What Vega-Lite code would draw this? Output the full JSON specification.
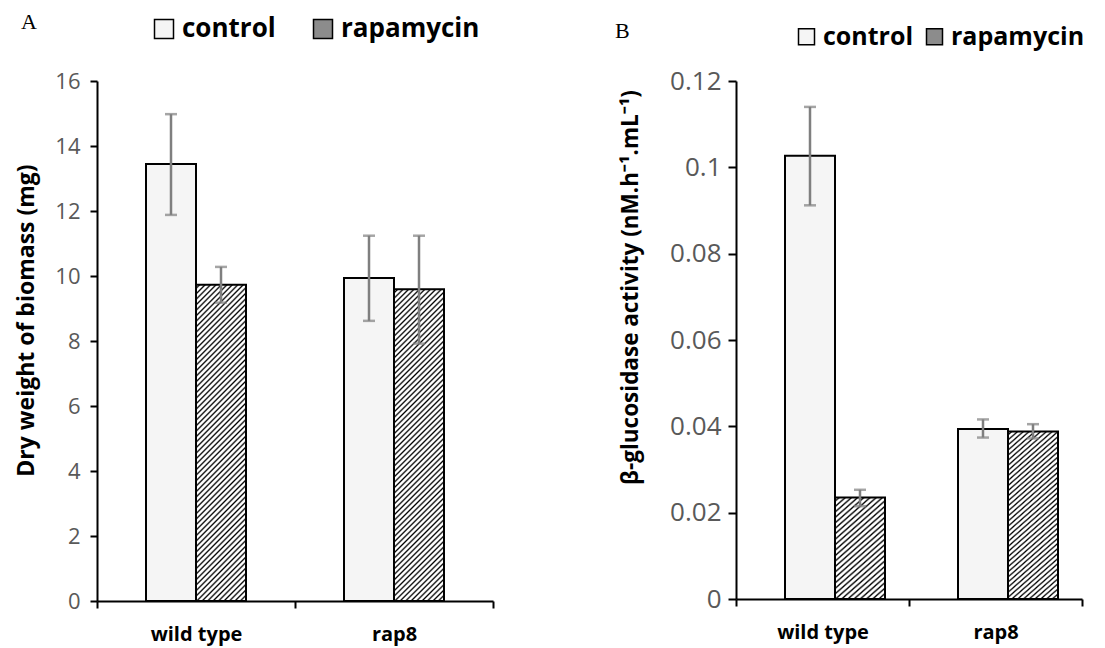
{
"background": "white",
"padding": {"left": 15, "top": 11, "right": 5, "bottom": 2},
"spacing": 243,
"bounds": "flush",
"resolve": {"scale": {"fill": "independent"}, "legend": {"fill": "independent"}},
"config": {"view": {"stroke": null}, "font": "Open Sans"},
"datasets": {
"a": [
{"genotype":"wild type","treatment":"control","value":13.45,"lo":11.88,"hi":14.98},
{"genotype":"wild type","treatment":"rapamycin","value":9.73,"lo":9.18,"hi":10.28},
{"genotype":"rap8","treatment":"control","value":9.94,"lo":8.62,"hi":11.24},
{"genotype":"rap8","treatment":"rapamycin","value":9.59,"lo":7.92,"hi":11.24}
],
"b": [
{"genotype":"wild type","treatment":"control","value":0.1027,"lo":0.0912,"hi":0.114},
{"genotype":"wild type","treatment":"rapamycin","value":0.0235,"lo":0.0215,"hi":0.0253},
{"genotype":"rap8","treatment":"control","value":0.0394,"lo":0.0374,"hi":0.0416},
{"genotype":"rap8","treatment":"rapamycin","value":0.0388,"lo":0.0372,"hi":0.0405}
]
},
"hconcat": [
{
"width": 396, "height": 520,
"data": {"name": "a"},
"title": {"text": "A", "anchor": "start", "frame": "group", "font": "Liberation Serif", "fontSize": 22, "fontWeight": "normal", "color": "black", "dx": -76, "dy": 18, "offset": 0},
"encoding": {
"x": {"field": "genotype", "type": "nominal", "sort": ["wild type","rap8"], "scale": {"paddingInner": 0, "paddingOuter": 0},
 "axis": {"title": null, "labelAngle": 0, "labelFontWeight": "bold", "labelFontSize": 20, "labelColor": "black", "labelPadding": 16, "tickBand": "extent", "tickSize": 7, "tickWidth": 2, "tickColor": "black", "domainColor": "black", "domainWidth": 2}},
"xOffset": {"field": "treatment", "type": "nominal", "sort": ["control","rapamycin"], "scale": {"paddingInner": 0, "paddingOuter": 0.98}}
},
"layer": [
{"mark": {"type": "bar", "stroke": "black", "strokeWidth": 2},
 "encoding": {
 "y": {"field": "value", "type": "quantitative", "scale": {"domain": [0,16], "nice": false},
  "axis": {"values": [0,2,4,6,8,10,12,14,16], "title": "Dry weight of biomass (mg)", "titleFontWeight": "bold", "titleFontSize": 23, "titleColor": "black", "titlePadding": 16, "titleY": 239, "labelFontSize": 22, "labelColor": "#595959", "labelPadding": 10, "tickColor": "black", "tickSize": 7, "tickWidth": 2, "domainColor": "black", "domainWidth": 2, "grid": false}},
 "fill": {"field": "treatment", "type": "nominal",
  "scale": {"domain": ["control","rapamycin"], "range": ["#f5f5f5","#8c8c8c"]},
  "legend": {"title": null, "orient": "none", "legendX": 54, "legendY": -65, "direction": "horizontal", "columns": 2, "symbolType": "square", "symbolSize": 361, "symbolOpacity": 1, "symbolStrokeWidth": 1.5, "symbolStrokeColor": "black", "labelFontWeight": "bold", "labelFontSize": 26, "labelColor": "black", "labelOffset": 5, "columnPadding": 34, "padding": 0},
  "condition": {"test": "datum.treatment === 'rapamycin'", "value": {"gradient":"linear","x1":0,"y1":0,"x2":0.18,"y2":1.13,"stops":[
{"offset":0,"color":"#fff"},{"offset":0.005,"color":"#fff"},{"offset":0.01,"color":"#000"},
{"offset":0.015,"color":"#fff"},{"offset":0.02,"color":"#fff"},{"offset":0.025,"color":"#000"},
{"offset":0.03,"color":"#fff"},{"offset":0.035,"color":"#fff"},{"offset":0.04,"color":"#000"},
{"offset":0.045,"color":"#fff"},{"offset":0.05,"color":"#fff"},{"offset":0.055,"color":"#000"},
{"offset":0.06,"color":"#fff"},{"offset":0.065,"color":"#fff"},{"offset":0.07,"color":"#000"},
{"offset":0.075,"color":"#fff"},{"offset":0.08,"color":"#fff"},{"offset":0.085,"color":"#000"},
{"offset":0.09,"color":"#fff"},{"offset":0.095,"color":"#fff"},{"offset":0.1,"color":"#000"},
{"offset":0.105,"color":"#fff"},{"offset":0.11,"color":"#fff"},{"offset":0.115,"color":"#000"},
{"offset":0.12,"color":"#fff"},{"offset":0.125,"color":"#fff"},{"offset":0.13,"color":"#000"},
{"offset":0.135,"color":"#fff"},{"offset":0.14,"color":"#fff"},{"offset":0.145,"color":"#000"},
{"offset":0.15,"color":"#fff"},{"offset":0.155,"color":"#fff"},{"offset":0.16,"color":"#000"},
{"offset":0.165,"color":"#fff"},{"offset":0.17,"color":"#fff"},{"offset":0.175,"color":"#000"},
{"offset":0.18,"color":"#fff"},{"offset":0.185,"color":"#fff"},{"offset":0.19,"color":"#000"},
{"offset":0.195,"color":"#fff"},{"offset":0.2,"color":"#fff"},{"offset":0.205,"color":"#000"},
{"offset":0.21,"color":"#fff"},{"offset":0.215,"color":"#fff"},{"offset":0.22,"color":"#000"},
{"offset":0.225,"color":"#fff"},{"offset":0.23,"color":"#fff"},{"offset":0.235,"color":"#000"},
{"offset":0.24,"color":"#fff"},{"offset":0.245,"color":"#fff"},{"offset":0.25,"color":"#000"},
{"offset":0.255,"color":"#fff"},{"offset":0.26,"color":"#fff"},{"offset":0.265,"color":"#000"},
{"offset":0.27,"color":"#fff"},{"offset":0.275,"color":"#fff"},{"offset":0.28,"color":"#000"},
{"offset":0.285,"color":"#fff"},{"offset":0.29,"color":"#fff"},{"offset":0.295,"color":"#000"},
{"offset":0.3,"color":"#fff"},{"offset":0.305,"color":"#fff"},{"offset":0.31,"color":"#000"},
{"offset":0.315,"color":"#fff"},{"offset":0.32,"color":"#fff"},{"offset":0.325,"color":"#000"},
{"offset":0.33,"color":"#fff"},{"offset":0.335,"color":"#fff"},{"offset":0.34,"color":"#000"},
{"offset":0.345,"color":"#fff"},{"offset":0.35,"color":"#fff"},{"offset":0.355,"color":"#000"},
{"offset":0.36,"color":"#fff"},{"offset":0.365,"color":"#fff"},{"offset":0.37,"color":"#000"},
{"offset":0.375,"color":"#fff"},{"offset":0.38,"color":"#fff"},{"offset":0.385,"color":"#000"},
{"offset":0.39,"color":"#fff"},{"offset":0.395,"color":"#fff"},{"offset":0.4,"color":"#000"},
{"offset":0.405,"color":"#fff"},{"offset":0.41,"color":"#fff"},{"offset":0.415,"color":"#000"},
{"offset":0.42,"color":"#fff"},{"offset":0.425,"color":"#fff"},{"offset":0.43,"color":"#000"},
{"offset":0.435,"color":"#fff"},{"offset":0.44,"color":"#fff"},{"offset":0.445,"color":"#000"},
{"offset":0.45,"color":"#fff"},{"offset":0.455,"color":"#fff"},{"offset":0.46,"color":"#000"},
{"offset":0.465,"color":"#fff"},{"offset":0.47,"color":"#fff"},{"offset":0.475,"color":"#000"},
{"offset":0.48,"color":"#fff"},{"offset":0.485,"color":"#fff"},{"offset":0.49,"color":"#000"},
{"offset":0.495,"color":"#fff"},{"offset":0.5,"color":"#fff"},{"offset":0.505,"color":"#000"},
{"offset":0.51,"color":"#fff"},{"offset":0.515,"color":"#fff"},{"offset":0.52,"color":"#000"},
{"offset":0.525,"color":"#fff"},{"offset":0.53,"color":"#fff"},{"offset":0.535,"color":"#000"},
{"offset":0.54,"color":"#fff"},{"offset":0.545,"color":"#fff"},{"offset":0.55,"color":"#000"},
{"offset":0.555,"color":"#fff"},{"offset":0.56,"color":"#fff"},{"offset":0.565,"color":"#000"},
{"offset":0.57,"color":"#fff"},{"offset":0.575,"color":"#fff"},{"offset":0.58,"color":"#000"},
{"offset":0.585,"color":"#fff"},{"offset":0.59,"color":"#fff"},{"offset":0.595,"color":"#000"},
{"offset":0.6,"color":"#fff"},{"offset":0.605,"color":"#fff"},{"offset":0.61,"color":"#000"},
{"offset":0.615,"color":"#fff"},{"offset":0.62,"color":"#fff"},{"offset":0.625,"color":"#000"},
{"offset":0.63,"color":"#fff"},{"offset":0.635,"color":"#fff"},{"offset":0.64,"color":"#000"},
{"offset":0.645,"color":"#fff"},{"offset":0.65,"color":"#fff"},{"offset":0.655,"color":"#000"},
{"offset":0.66,"color":"#fff"},{"offset":0.665,"color":"#fff"},{"offset":0.67,"color":"#000"},
{"offset":0.675,"color":"#fff"},{"offset":0.68,"color":"#fff"},{"offset":0.685,"color":"#000"},
{"offset":0.69,"color":"#fff"},{"offset":0.695,"color":"#fff"},{"offset":0.7,"color":"#000"},
{"offset":0.705,"color":"#fff"},{"offset":0.71,"color":"#fff"},{"offset":0.715,"color":"#000"},
{"offset":0.72,"color":"#fff"},{"offset":0.725,"color":"#fff"},{"offset":0.73,"color":"#000"},
{"offset":0.735,"color":"#fff"},{"offset":0.74,"color":"#fff"},{"offset":0.745,"color":"#000"},
{"offset":0.75,"color":"#fff"},{"offset":0.755,"color":"#fff"},{"offset":0.76,"color":"#000"},
{"offset":0.765,"color":"#fff"},{"offset":0.77,"color":"#fff"},{"offset":0.775,"color":"#000"},
{"offset":0.78,"color":"#fff"},{"offset":0.785,"color":"#fff"},{"offset":0.79,"color":"#000"},
{"offset":0.795,"color":"#fff"},{"offset":0.8,"color":"#fff"},{"offset":0.805,"color":"#000"},
{"offset":0.81,"color":"#fff"},{"offset":0.815,"color":"#fff"},{"offset":0.82,"color":"#000"},
{"offset":0.825,"color":"#fff"},{"offset":0.83,"color":"#fff"},{"offset":0.835,"color":"#000"},
{"offset":0.84,"color":"#fff"},{"offset":0.845,"color":"#fff"},{"offset":0.85,"color":"#000"},
{"offset":0.855,"color":"#fff"},{"offset":0.86,"color":"#fff"},{"offset":0.865,"color":"#000"},
{"offset":0.87,"color":"#fff"},{"offset":0.875,"color":"#fff"},{"offset":0.88,"color":"#000"},
{"offset":0.885,"color":"#fff"},{"offset":0.89,"color":"#fff"},{"offset":0.895,"color":"#000"},
{"offset":0.9,"color":"#fff"},{"offset":0.905,"color":"#fff"},{"offset":0.91,"color":"#000"},
{"offset":0.915,"color":"#fff"},{"offset":0.92,"color":"#fff"},{"offset":0.925,"color":"#000"},
{"offset":0.93,"color":"#fff"},{"offset":0.935,"color":"#fff"},{"offset":0.94,"color":"#000"},
{"offset":0.945,"color":"#fff"},{"offset":0.95,"color":"#fff"},{"offset":0.955,"color":"#000"},
{"offset":0.96,"color":"#fff"},{"offset":0.965,"color":"#fff"},{"offset":0.97,"color":"#000"},
{"offset":0.975,"color":"#fff"},{"offset":0.98,"color":"#fff"},{"offset":0.985,"color":"#000"},
{"offset":0.99,"color":"#fff"},{"offset":0.995,"color":"#fff"},{"offset":1,"color":"#000"}
  ]}}
 }
 }
},
{"mark": {"type": "rule", "color": "#7f7f7f", "strokeWidth": 2.5},
 "encoding": {"y": {"field": "lo", "type": "quantitative", "scale": {"domain": [0,16], "nice": false}}, "y2": {"field": "hi"}}},
{"mark": {"type": "tick", "color": "#7f7f7f", "thickness": 2.5, "size": 12, "orient": "horizontal"},
 "encoding": {"y": {"field": "lo", "type": "quantitative", "scale": {"domain": [0,16], "nice": false}}}},
{"mark": {"type": "tick", "color": "#7f7f7f", "thickness": 2.5, "size": 12, "orient": "horizontal"},
 "encoding": {"y": {"field": "hi", "type": "quantitative", "scale": {"domain": [0,16], "nice": false}}}}
]
},
{
"width": 346, "height": 518,
"data": {"name": "b"},
"title": {"text": "B", "anchor": "start", "frame": "group", "font": "Liberation Serif", "fontSize": 22, "fontWeight": "normal", "color": "black", "dx": -121, "dy": 19, "offset": 0},
"encoding": {
"x": {"field": "genotype", "type": "nominal", "sort": ["wild type","rap8"], "scale": {"paddingInner": 0, "paddingOuter": 0},
 "axis": {"title": null, "labelAngle": 0, "labelFontWeight": "bold", "labelFontSize": 20, "labelColor": "black", "labelPadding": 16, "tickBand": "extent", "tickSize": 7, "tickWidth": 2, "tickColor": "black", "domainColor": "black", "domainWidth": 2}},
"xOffset": {"field": "treatment", "type": "nominal", "sort": ["control","rapamycin"], "scale": {"paddingInner": 0, "paddingOuter": 0.965}}
},
"layer": [
{"mark": {"type": "bar", "stroke": "black", "strokeWidth": 2},
 "encoding": {
 "y": {"field": "value", "type": "quantitative", "scale": {"domain": [0,0.12], "nice": false},
  "axis": {"values": [0,0.02,0.04,0.06,0.08,0.1,0.12], "format": "~g", "title": "β-glucosidase activity (nM.h⁻¹.mL⁻¹)", "titleFontWeight": "bold", "titleFontSize": 22.5, "titleColor": "black", "titlePadding": 27, "titleY": 206, "labelFontSize": 26, "labelColor": "#595959", "labelPadding": 7, "tickColor": "black", "tickSize": 8, "tickWidth": 2, "domainColor": "black", "domainWidth": 2, "grid": false}},
 "fill": {"field": "treatment", "type": "nominal",
  "scale": {"domain": ["control","rapamycin"], "range": ["#f5f5f5","#8c8c8c"]},
  "legend": {"title": null, "orient": "none", "legendX": 58, "legendY": -57, "direction": "horizontal", "columns": 2, "symbolType": "square", "symbolSize": 256, "symbolOpacity": 1, "symbolStrokeWidth": 1.5, "symbolStrokeColor": "black", "labelFontWeight": "bold", "labelFontSize": 25, "labelColor": "black", "labelOffset": 4, "columnPadding": 8, "padding": 0},
  "condition": [
  {"test": "datum.treatment === 'rapamycin' && datum.genotype === 'wild type'", "value": {"gradient":"linear","x1":0,"y1":0,"x2":0.5246,"y2":1.2066,"stops":[
{"offset":0,"color":"#fff"},{"offset":0.0125,"color":"#fff"},{"offset":0.025,"color":"#000"},
{"offset":0.0375,"color":"#fff"},{"offset":0.05,"color":"#fff"},{"offset":0.0625,"color":"#000"},
{"offset":0.075,"color":"#fff"},{"offset":0.0875,"color":"#fff"},{"offset":0.1,"color":"#000"},
{"offset":0.1125,"color":"#fff"},{"offset":0.125,"color":"#fff"},{"offset":0.1375,"color":"#000"},
{"offset":0.15,"color":"#fff"},{"offset":0.1625,"color":"#fff"},{"offset":0.175,"color":"#000"},
{"offset":0.1875,"color":"#fff"},{"offset":0.2,"color":"#fff"},{"offset":0.2125,"color":"#000"},
{"offset":0.225,"color":"#fff"},{"offset":0.2375,"color":"#fff"},{"offset":0.25,"color":"#000"},
{"offset":0.2625,"color":"#fff"},{"offset":0.275,"color":"#fff"},{"offset":0.2875,"color":"#000"},
{"offset":0.3,"color":"#fff"},{"offset":0.3125,"color":"#fff"},{"offset":0.325,"color":"#000"},
{"offset":0.3375,"color":"#fff"},{"offset":0.35,"color":"#fff"},{"offset":0.3625,"color":"#000"},
{"offset":0.375,"color":"#fff"},{"offset":0.3875,"color":"#fff"},{"offset":0.4,"color":"#000"},
{"offset":0.4125,"color":"#fff"},{"offset":0.425,"color":"#fff"},{"offset":0.4375,"color":"#000"},
{"offset":0.45,"color":"#fff"},{"offset":0.4625,"color":"#fff"},{"offset":0.475,"color":"#000"},
{"offset":0.4875,"color":"#fff"},{"offset":0.5,"color":"#fff"},{"offset":0.5125,"color":"#000"},
{"offset":0.525,"color":"#fff"},{"offset":0.5375,"color":"#fff"},{"offset":0.55,"color":"#000"},
{"offset":0.5625,"color":"#fff"},{"offset":0.575,"color":"#fff"},{"offset":0.5875,"color":"#000"},
{"offset":0.6,"color":"#fff"},{"offset":0.6125,"color":"#fff"},{"offset":0.625,"color":"#000"},
{"offset":0.6375,"color":"#fff"},{"offset":0.65,"color":"#fff"},{"offset":0.6625,"color":"#000"},
{"offset":0.675,"color":"#fff"},{"offset":0.6875,"color":"#fff"},{"offset":0.7,"color":"#000"},
{"offset":0.7125,"color":"#fff"},{"offset":0.725,"color":"#fff"},{"offset":0.7375,"color":"#000"},
{"offset":0.75,"color":"#fff"},{"offset":0.7625,"color":"#fff"},{"offset":0.775,"color":"#000"},
{"offset":0.7875,"color":"#fff"},{"offset":0.8,"color":"#fff"},{"offset":0.8125,"color":"#000"},
{"offset":0.825,"color":"#fff"},{"offset":0.8375,"color":"#fff"},{"offset":0.85,"color":"#000"},
{"offset":0.8625,"color":"#fff"},{"offset":0.875,"color":"#fff"},{"offset":0.8875,"color":"#000"},
{"offset":0.9,"color":"#fff"},{"offset":0.9125,"color":"#fff"},{"offset":0.925,"color":"#000"},
{"offset":0.9375,"color":"#fff"},{"offset":0.95,"color":"#fff"},{"offset":0.9625,"color":"#000"},
{"offset":0.975,"color":"#fff"},{"offset":0.9875,"color":"#fff"},{"offset":1,"color":"#000"}
  ]}},
  {"test": "datum.treatment === 'rapamycin'", "value": {"gradient":"linear","x1":0,"y1":0,"x2":0.3103,"y2":1.1814,"stops":[
{"offset":0,"color":"#fff"},{"offset":0.008,"color":"#fff"},{"offset":0.016,"color":"#000"},
{"offset":0.024,"color":"#fff"},{"offset":0.032,"color":"#fff"},{"offset":0.04,"color":"#000"},
{"offset":0.048,"color":"#fff"},{"offset":0.056,"color":"#fff"},{"offset":0.064,"color":"#000"},
{"offset":0.072,"color":"#fff"},{"offset":0.08,"color":"#fff"},{"offset":0.088,"color":"#000"},
{"offset":0.096,"color":"#fff"},{"offset":0.104,"color":"#fff"},{"offset":0.112,"color":"#000"},
{"offset":0.12,"color":"#fff"},{"offset":0.128,"color":"#fff"},{"offset":0.136,"color":"#000"},
{"offset":0.144,"color":"#fff"},{"offset":0.152,"color":"#fff"},{"offset":0.16,"color":"#000"},
{"offset":0.168,"color":"#fff"},{"offset":0.176,"color":"#fff"},{"offset":0.184,"color":"#000"},
{"offset":0.192,"color":"#fff"},{"offset":0.2,"color":"#fff"},{"offset":0.208,"color":"#000"},
{"offset":0.216,"color":"#fff"},{"offset":0.224,"color":"#fff"},{"offset":0.232,"color":"#000"},
{"offset":0.24,"color":"#fff"},{"offset":0.248,"color":"#fff"},{"offset":0.256,"color":"#000"},
{"offset":0.264,"color":"#fff"},{"offset":0.272,"color":"#fff"},{"offset":0.28,"color":"#000"},
{"offset":0.288,"color":"#fff"},{"offset":0.296,"color":"#fff"},{"offset":0.304,"color":"#000"},
{"offset":0.312,"color":"#fff"},{"offset":0.32,"color":"#fff"},{"offset":0.328,"color":"#000"},
{"offset":0.336,"color":"#fff"},{"offset":0.344,"color":"#fff"},{"offset":0.352,"color":"#000"},
{"offset":0.36,"color":"#fff"},{"offset":0.368,"color":"#fff"},{"offset":0.376,"color":"#000"},
{"offset":0.384,"color":"#fff"},{"offset":0.392,"color":"#fff"},{"offset":0.4,"color":"#000"},
{"offset":0.408,"color":"#fff"},{"offset":0.416,"color":"#fff"},{"offset":0.424,"color":"#000"},
{"offset":0.432,"color":"#fff"},{"offset":0.44,"color":"#fff"},{"offset":0.448,"color":"#000"},
{"offset":0.456,"color":"#fff"},{"offset":0.464,"color":"#fff"},{"offset":0.472,"color":"#000"},
{"offset":0.48,"color":"#fff"},{"offset":0.488,"color":"#fff"},{"offset":0.496,"color":"#000"},
{"offset":0.504,"color":"#fff"},{"offset":0.512,"color":"#fff"},{"offset":0.52,"color":"#000"},
{"offset":0.528,"color":"#fff"},{"offset":0.536,"color":"#fff"},{"offset":0.544,"color":"#000"},
{"offset":0.552,"color":"#fff"},{"offset":0.56,"color":"#fff"},{"offset":0.568,"color":"#000"},
{"offset":0.576,"color":"#fff"},{"offset":0.584,"color":"#fff"},{"offset":0.592,"color":"#000"},
{"offset":0.6,"color":"#fff"},{"offset":0.608,"color":"#fff"},{"offset":0.616,"color":"#000"},
{"offset":0.624,"color":"#fff"},{"offset":0.632,"color":"#fff"},{"offset":0.64,"color":"#000"},
{"offset":0.648,"color":"#fff"},{"offset":0.656,"color":"#fff"},{"offset":0.664,"color":"#000"},
{"offset":0.672,"color":"#fff"},{"offset":0.68,"color":"#fff"},{"offset":0.688,"color":"#000"},
{"offset":0.696,"color":"#fff"},{"offset":0.704,"color":"#fff"},{"offset":0.712,"color":"#000"},
{"offset":0.72,"color":"#fff"},{"offset":0.728,"color":"#fff"},{"offset":0.736,"color":"#000"},
{"offset":0.744,"color":"#fff"},{"offset":0.752,"color":"#fff"},{"offset":0.76,"color":"#000"},
{"offset":0.768,"color":"#fff"},{"offset":0.776,"color":"#fff"},{"offset":0.784,"color":"#000"},
{"offset":0.792,"color":"#fff"},{"offset":0.8,"color":"#fff"},{"offset":0.808,"color":"#000"},
{"offset":0.816,"color":"#fff"},{"offset":0.824,"color":"#fff"},{"offset":0.832,"color":"#000"},
{"offset":0.84,"color":"#fff"},{"offset":0.848,"color":"#fff"},{"offset":0.856,"color":"#000"},
{"offset":0.864,"color":"#fff"},{"offset":0.872,"color":"#fff"},{"offset":0.88,"color":"#000"},
{"offset":0.888,"color":"#fff"},{"offset":0.896,"color":"#fff"},{"offset":0.904,"color":"#000"},
{"offset":0.912,"color":"#fff"},{"offset":0.92,"color":"#fff"},{"offset":0.928,"color":"#000"},
{"offset":0.936,"color":"#fff"},{"offset":0.944,"color":"#fff"},{"offset":0.952,"color":"#000"},
{"offset":0.96,"color":"#fff"},{"offset":0.968,"color":"#fff"},{"offset":0.976,"color":"#000"},
{"offset":0.984,"color":"#fff"},{"offset":0.992,"color":"#fff"},{"offset":1,"color":"#000"}
  ]}}
  ]
 }
 }
},
{"mark": {"type": "rule", "color": "#7f7f7f", "strokeWidth": 2.5},
 "encoding": {"y": {"field": "lo", "type": "quantitative", "scale": {"domain": [0,0.12], "nice": false}}, "y2": {"field": "hi"}}},
{"mark": {"type": "tick", "color": "#7f7f7f", "thickness": 2.5, "size": 12, "orient": "horizontal"},
 "encoding": {"y": {"field": "lo", "type": "quantitative", "scale": {"domain": [0,0.12], "nice": false}}}},
{"mark": {"type": "tick", "color": "#7f7f7f", "thickness": 2.5, "size": 12, "orient": "horizontal"},
 "encoding": {"y": {"field": "hi", "type": "quantitative", "scale": {"domain": [0,0.12], "nice": false}}}}
]
}
]
}
